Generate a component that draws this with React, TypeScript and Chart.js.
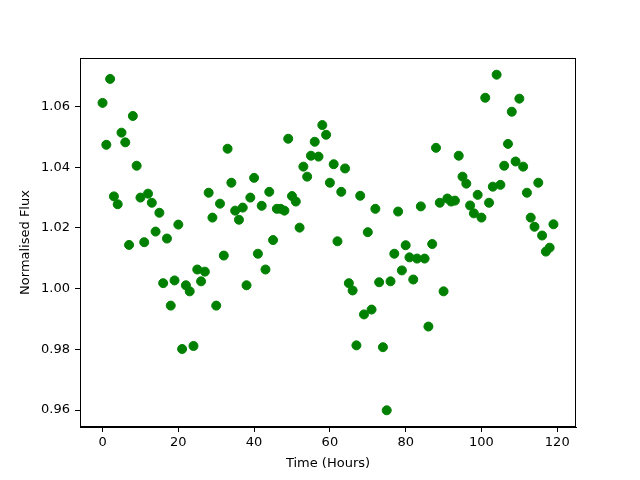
import React, { useEffect, useRef } from "react";
import { Chart, registerables } from "chart.js";

Chart.register(...registerables);

const hours: number[] = Array.from({ length: 120 }, (_, i) => i);
const flux: number[] = [
  1.0612, 1.0474, 1.0691, 1.0304, 1.0278, 1.0514, 1.0482, 1.0144, 1.0569, 1.0405,
  1.0300, 1.0153, 1.0313, 1.0283, 1.0188, 1.0250, 1.0018, 1.0165, 0.9944, 1.0027,
  1.0211, 0.9801, 1.0011, 0.9991, 0.9811, 1.0063, 1.0024, 1.0056, 1.0316, 1.0234,
  0.9944, 1.0280, 1.0109, 1.0461, 1.0349, 1.0257, 1.0227, 1.0267, 1.0011, 1.0300,
  1.0365, 1.0115, 1.0273, 1.0063, 1.0319, 1.0160, 1.0263, 1.0263, 1.0257, 1.0494,
  1.0305, 1.0287, 1.0201, 1.0402, 1.0369, 1.0438, 1.0484, 1.0435, 1.0539, 1.0507,
  1.0349, 1.0410, 1.0156, 1.0319, 1.0396, 1.0018, 0.9994, 0.9813, 1.0306, 0.9915,
  1.0186, 0.9931, 1.0263, 1.0021, 0.9807, 0.9599, 1.0024, 1.0115, 1.0254, 1.0060,
  1.0143, 1.0103, 1.0030, 1.0099, 1.0271, 1.0099, 0.9875, 1.0147, 1.0464, 1.0283,
  0.9991, 1.0297, 1.0287, 1.0290, 1.0438, 1.0369, 1.0346, 1.0274, 1.0248, 1.0309,
  1.0234, 1.0629, 1.0283, 1.0336, 1.0705, 1.0342, 1.0405, 1.0477, 1.0583, 1.0419,
  1.0626, 1.0402, 1.0316, 1.0234, 1.0204, 1.0349, 1.0175, 1.0122, 1.0135, 1.0212,
];
const xTicks: number[] = [0, 20, 40, 60, 80, 100, 120];
const yTicks: number[] = [0.96, 0.98, 1.0, 1.02, 1.04, 1.06];
const xLabel = "Time (Hours)";
const yLabel = "Normalised Flux";

const FONT = { family: "'DejaVu Sans', sans-serif", size: 13 };

const frame = {
  id: "frame",
  afterDraw(chart: any) {
    const { ctx, chartArea: a } = chart;
    ctx.save();
    ctx.strokeStyle = "#000";
    ctx.lineWidth = 1;
    ctx.strokeRect(a.left + 0.5, a.top + 0.5, a.right - a.left - 1, a.bottom - a.top - 1);
    ctx.restore();
  },
};

export default function App() {
  const ref = useRef<HTMLCanvasElement>(null);
  useEffect(() => {
    if (!ref.current) return;
    const chart = new Chart(ref.current, {
      type: "scatter",
      data: {
        datasets: [
          {
            data: hours.map((h, i) => ({ x: h, y: flux[i] })),
            backgroundColor: "#008000",
            borderColor: "#008000",
            borderWidth: 1,
            pointRadius: 4.5,
          },
        ],
      },
      options: {
        animation: false,
        responsive: false,
        devicePixelRatio: 1,
        layout: { padding: { left: 0, top: 58, right: 64, bottom: 0 } },
        plugins: { legend: { display: false }, tooltip: { enabled: false } },
        scales: {
          x: {
            type: "linear",
            min: -5.95,
            max: 124.95,
            afterBuildTicks: (s: any) => {
              s.ticks = xTicks.map((v) => ({ value: v }));
            },
            afterFit: (s: any) => {
              s.height = 53;
            },
            grid: { display: true, drawOnChartArea: false, tickLength: 5, tickColor: "#000" },
            border: { display: true, color: "#000" },
            ticks: { color: "#000", font: FONT, padding: 3, maxRotation: 0, callback: (v: any) => String(v) },
            title: { display: true, text: xLabel, color: "#000", font: FONT, padding: { top: 0, bottom: 9 } },
          },
          y: {
            type: "linear",
            min: 0.9544,
            max: 1.076,
            afterBuildTicks: (s: any) => {
              s.ticks = yTicks.map((v) => ({ value: v }));
            },
            afterFit: (s: any) => {
              s.width = 80;
            },
            grid: { display: true, drawOnChartArea: false, tickLength: 5, tickColor: "#000" },
            border: { display: true, color: "#000" },
            ticks: { color: "#000", font: FONT, padding: 5, callback: (v: any) => Number(v).toFixed(2) },
            title: { display: true, text: yLabel, color: "#000", font: FONT, padding: { top: 18, bottom: 0 } },
          },
        },
      },
      plugins: [frame],
    });
    return () => chart.destroy();
  }, []);
  return (
    <div style={{ position: "fixed", left: 0, top: 0, width: 640, height: 480, background: "#fff" }}>
      <canvas ref={ref} width={640} height={480} style={{ width: 640, height: 480 }} />
    </div>
  );
}
